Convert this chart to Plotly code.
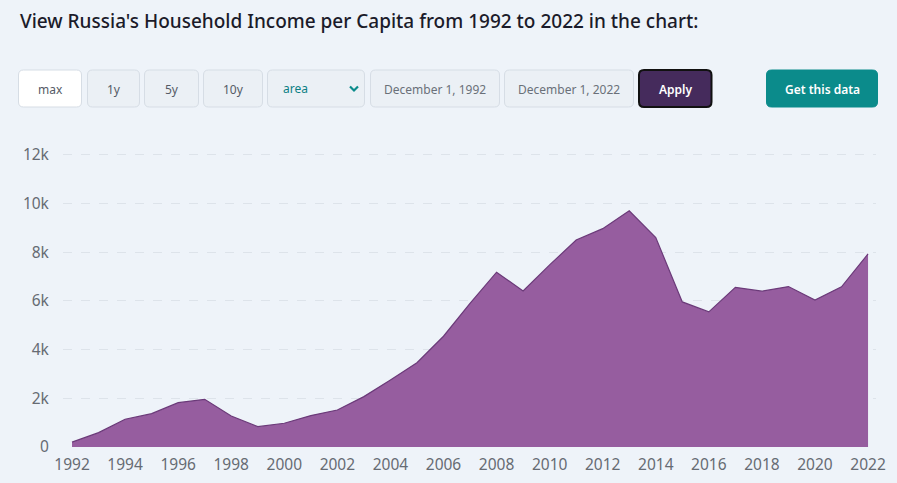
import plotly.graph_objects as go

years = list(range(1992, 2023))
income = [200, 590, 1140, 1370, 1820, 1960, 1275, 835, 975, 1290, 1520, 2070,
          2750, 3460, 4550, 5900, 7180, 6410, 7480, 8500, 8970, 9700, 8600,
          5960, 5550, 6560, 6400, 6590, 6040, 6580, 7930]
y_tickvals = [0, 2000, 4000, 6000, 8000, 10000, 12000]
y_ticktext = ["0", "2k", "4k", "6k", "8k", "10k", "12k"]
x_tickvals = list(range(1992, 2023, 2))

W, H = 897, 483
ML, MR, MT, MB = 63, 21, 150, 36
PW, PH = W - ML - MR, H - MT - MB
BG = "#eef3f9"
FONT = "Noto Sans"


def px(x):
    return (x - ML) / PW


def py(y):
    return (H - MB - y) / PH


fig = go.Figure()
fig.add_trace(go.Scatter(
    x=years, y=income, mode="lines", fill="tozeroy",
    line=dict(color="#6b3a79", width=1.2),
    fillcolor="#965d9f", hoverinfo="x+y", showlegend=False,
))

shapes = []
annotations = []

# Title
annotations.append(dict(
    xref="paper", yref="paper", x=px(18), y=py(21), xanchor="left", yanchor="middle",
    text="View Russia's Household Income per Capita from 1992 to 2022 in the chart:",
    showarrow=False, font=dict(family=FONT, size=19, color="#1b1b2a", weight=500),
))

# Control buttons: (x0, x1, label, fill, border, text color, bold)
buttons = [
    (18.5, 81.5, "max", "#ffffff", "#d6dde5", "#555b66", False),
    (87.5, 139.5, "1y", "#ebf0f5", "#d6dde5", "#555b66", False),
    (144.5, 198.5, "5y", "#ebf0f5", "#d6dde5", "#555b66", False),
    (203.5, 262.5, "10y", "#ebf0f5", "#d6dde5", "#555b66", False),
    (267.5, 364.5, "", "#ebf0f5", "#d6dde5", "#555b66", False),
    (370.5, 499.5, "December 1, 1992", "#ebf0f5", "#d6dde5", "#6a7079", False),
    (504.5, 633.5, "December 1, 2022", "#ebf0f5", "#d6dde5", "#6a7079", False),
    (639.0, 711.5, "Apply", "#452b5c", "#111111", "#ffffff", True),
    (766.5, 877.5, "Get this data", "#0b8b8b", "#0b8b8b", "#ffffff", True),
]
y0b, y1b = 70.0, 107.0
for x0, x1, label, fill, border, tcol, bold in buttons:
    lw = 2 if label == "Apply" else 1
    r = 5
    path = (f"M {px(x0 + r)} {py(y0b)} L {px(x1 - r)} {py(y0b)} "
            f"Q {px(x1)} {py(y0b)} {px(x1)} {py(y0b + r)} "
            f"L {px(x1)} {py(y1b - r)} Q {px(x1)} {py(y1b)} {px(x1 - r)} {py(y1b)} "
            f"L {px(x0 + r)} {py(y1b)} Q {px(x0)} {py(y1b)} {px(x0)} {py(y1b - r)} "
            f"L {px(x0)} {py(y0b + r)} Q {px(x0)} {py(y0b)} {px(x0 + r)} {py(y0b)} Z")
    shapes.append(dict(type="path", xref="paper", yref="paper", path=path,
                       fillcolor=fill, line=dict(color=border, width=lw), layer="above"))
    if label:
        annotations.append(dict(
            xref="paper", yref="paper", x=px((x0 + x1) / 2), y=py(89.5), xanchor="center",
            yanchor="middle", text=label, showarrow=False,
            font=dict(family=FONT, size=12, color=tcol, weight=600 if bold else 400),
        ))

# Select box "area" with chevron
annotations.append(dict(
    xref="paper", yref="paper", x=px(281), y=py(89), xanchor="left", yanchor="middle",
    text="area", showarrow=False, font=dict(family=FONT, size=12, color="#0b7f84"),
))
shapes.append(dict(
    type="path", xref="paper", yref="paper",
    path=f"M {px(350)} {py(86.5)} L {px(354)} {py(90.5)} L {px(358)} {py(86.5)}",
    line=dict(color="#0b8b8b", width=2.2), layer="above",
))

fig.update_layout(
    width=W, height=H,
    margin=dict(l=ML, r=MR, t=MT, b=MB, autoexpand=False),
    paper_bgcolor=BG, plot_bgcolor=BG,
    shapes=shapes, annotations=annotations,
    xaxis=dict(
        range=[1991.66, 2022.3], tickvals=x_tickvals, showgrid=False, zeroline=False,
        showline=False, ticks="outside", ticklen=3, tickcolor="rgba(0,0,0,0)",
        tickfont=dict(family=FONT, size=15.5, color="#666b73"), fixedrange=True,
        automargin=False,
    ),
    yaxis=dict(
        range=[0, 12200], tickvals=y_tickvals, ticktext=y_ticktext,
        showgrid=True, gridcolor="#dde3ea", griddash="dash", gridwidth=1,
        zeroline=False, showline=False, ticks="outside", ticklen=10,
        tickcolor="rgba(0,0,0,0)",
        tickfont=dict(family=FONT, size=15.5, color="#666b73"), fixedrange=True,
        automargin=False,
    ),
    font=dict(family=FONT),
)

fig.write_html(
    "out.html",
    config={"displayModeBar": False},
    post_script="document.body.style.margin='0px';document.body.style.background='#eef3f9';",
)
